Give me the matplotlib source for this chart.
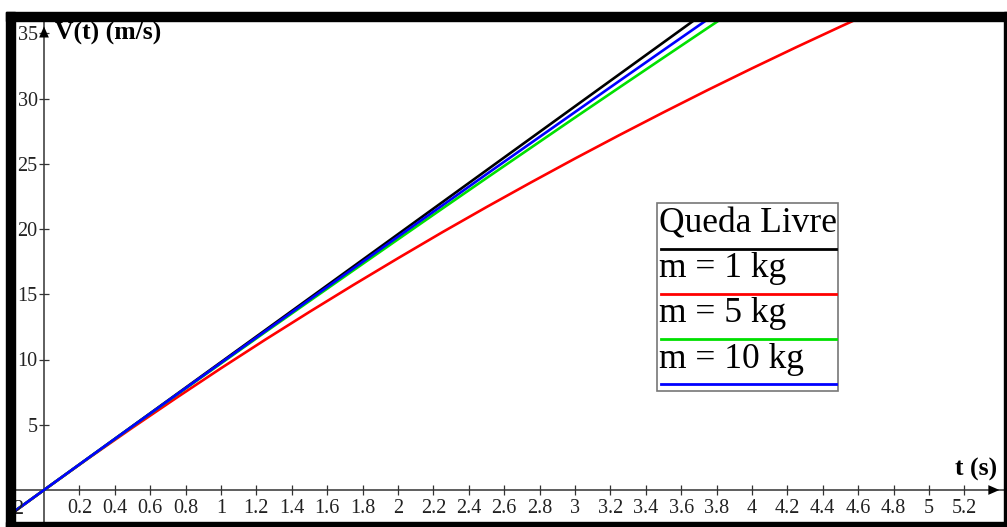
import matplotlib.pyplot as plt
from matplotlib.patches import Rectangle

# tempo (s) e velocidades (m/s)
t = [-0.2, 0.0, 0.25, 0.5, 0.75, 1.0, 1.25, 1.5, 1.75, 2.0, 2.25, 2.5, 2.75,
     3.0, 3.25, 3.5, 3.75, 4.0, 4.25, 4.5, 4.75, 5.0]
v_livre = [-1.96, 0.0, 2.45, 4.9, 7.35, 9.8, 12.25, 14.7, 17.15, 19.6, 22.05, 24.5,
           26.95, 29.4, 31.85, 34.3, 36.75, 39.2, 41.65, 44.1, 46.55, 49.0]
v_1kg = [-1.98, 0.0, 2.42, 4.78, 7.08, 9.33, 11.52, 13.65, 15.73, 17.76, 19.75, 21.68,
         23.56, 25.40, 27.19, 28.94, 30.65, 32.31, 33.93, 35.51, 37.06, 38.56]
v_5kg = [-1.96, 0.0, 2.44, 4.88, 7.30, 9.70, 12.10, 14.48, 16.85, 19.21, 21.56, 23.90,
         26.22, 28.54, 30.84, 33.13, 35.41, 37.67, 39.93, 42.11, 44.41, 46.63]
v_10kg = [-1.96, 0.0, 2.45, 4.89, 7.32, 9.75, 12.17, 14.59, 17.00, 19.41, 21.80, 24.20,
          26.58, 28.96, 31.34, 33.71, 36.07, 38.43, 40.78, 43.12, 45.46, 47.79]

nomes = ["Queda Livre", "m = 1 kg", "m = 5 kg", "m = 10 kg"]
cores = ["black", "#ff0000", "#00e000", "#0000ff"]

xticks = [round(0.2 * i, 1) for i in range(1, 27)]
yticks = [5, 10, 15, 20, 25, 30, 35]

W, H = 1007, 527
plt.rcParams['font.family'] = ['Liberation Serif', 'DejaVu Serif']

fig = plt.figure(figsize=(W / 100, H / 100), dpi=100)

def fx(x):
    return x / W

def fy(y):
    return 1 - y / H

# area do grafico (dentro da moldura)
left, right, top, bottom = 15, 1004, 21, 522
ax = fig.add_axes([fx(left), fy(bottom), (right - left) / W, (bottom - top) / H])
x0, y0, sx, sy = 44, 490, 177.0, 13.05
ax.set_xlim((left - x0) / sx, (right - x0) / sx)
ax.set_ylim((y0 - bottom) / sy, (y0 - top) / sy)

for v, c in zip([v_livre, v_1kg, v_5kg, v_10kg], cores):
    ax.plot(t, v, color=c, lw=1.9, zorder=3)

# eixos no zero
for s in ['top', 'right']:
    ax.spines[s].set_visible(False)
ax.spines['left'].set_position(('data', 0))
ax.spines['bottom'].set_position(('data', 0))
ax.spines['left'].set_color('#333333')
ax.spines['bottom'].set_color('#333333')
ax.spines['left'].set_linewidth(1.1)
ax.spines['bottom'].set_linewidth(1.1)
ax.set_xticks(xticks)
ax.set_xticklabels([f"{x:g}" for x in xticks])
ax.set_yticks(yticks)
ax.tick_params(direction='inout', length=7, width=0.9, color='#333333',
               labelsize=14.5, labelcolor='#222222', pad=1)
ax.tick_params(axis='x', pad=3)
ax.text(-0.2, -0.75, "-0.2", ha='center', va='top', fontsize=14.5,
        color='#222222', clip_on=True)

# setas
xl = ax.get_xlim()
yl = ax.get_ylim()
ax.annotate('', xy=(xl[1] - 0.01, 0), xytext=(xl[1] - 0.12, 0),
            arrowprops=dict(arrowstyle='-|>,head_length=0.8,head_width=0.35',
                            color='black', lw=0), annotation_clip=False)
ax.annotate('', xy=(0, yl[1] - 0.2), xytext=(0, yl[1] - 2),
            arrowprops=dict(arrowstyle='-|>,head_length=0.8,head_width=0.35',
                            color='black', lw=0), annotation_clip=False)

fig.text(fx(55), fy(33), "V(t) (m/s)", fontsize=18.5, fontweight='bold', va='center')
fig.text(fx(997), fy(469), "t (s)", fontsize=18.5, fontweight='bold', va='center', ha='right')

# legenda
fig.patches.append(Rectangle((fx(657), fy(391)), (838 - 657) / W, (391 - 203) / H,
                             transform=fig.transFigure, fill=True, facecolor='white',
                             edgecolor='#777777', lw=1.2, zorder=5))
ytxt = [224, 269, 314, 359]
ylin = [249, 294, 339, 384]
for nome, c, yt, yln in zip(nomes, cores, ytxt, ylin):
    fig.text(fx(659), fy(yt), nome, fontsize=25.5, va='center', ha='left', zorder=6)
    fig.lines.append(plt.Line2D([fx(661), fx(836)], [fy(yln), fy(yln)],
                                transform=fig.transFigure, color=c, lw=2.0, zorder=6))

# moldura preta
for (x, y, w, h) in [(6, 12, 9, 515), (6, 12, 1001, 9), (1004, 12, 3, 515), (6, 522, 1001, 5)]:
    fig.patches.append(Rectangle((fx(x), fy(y + h)), w / W, h / H,
                                 transform=fig.transFigure, color='black', zorder=10))

fig.savefig("out.png", dpi=100)
